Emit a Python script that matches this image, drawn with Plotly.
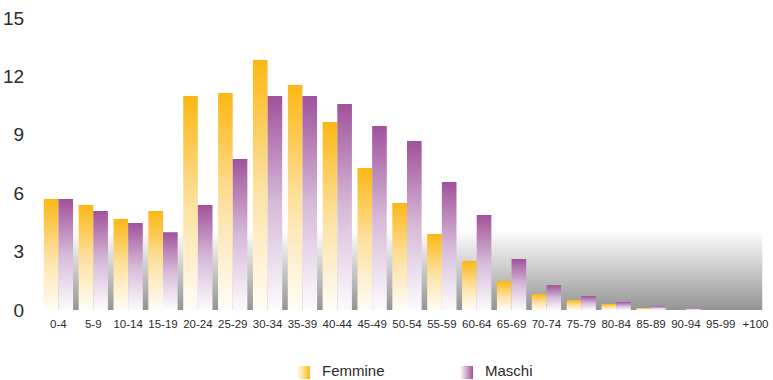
import base64
import plotly.graph_objects as go

# Age classes and population share (%) by sex
classi = ["0-4", "5-9", "10-14", "15-19", "20-24", "25-29", "30-34", "35-39",
          "40-44", "45-49", "50-54", "55-59", "60-64", "65-69", "70-74", "75-79",
          "80-84", "85-89", "90-94", "95-99", "+100"]
femmine = [5.70, 5.39, 4.67, 5.08, 10.99, 11.15, 12.84, 11.56, 9.66, 7.29, 5.50,
           3.90, 2.52, 1.49, 0.82, 0.51, 0.31, 0.10, 0.0, 0.0, 0.0]
maschi = [5.70, 5.08, 4.47, 4.00, 5.39, 7.76, 10.99, 10.99, 10.58, 9.45, 8.68,
          6.57, 4.88, 2.62, 1.28, 0.72, 0.41, 0.21, 0.10, 0.0, 0.0]
y_ticks = [0, 3, 6, 9, 12, 15]

FONT = "Liberation Sans, Arial, sans-serif"
TEXT = "#2b2b2b"
ORANGE = [[0, "rgb(255,253,247)"], [0.5, "rgb(253,224,158)"], [1, "rgb(251,183,20)"]]
PURPLE = [[0, "rgb(253,251,254)"], [0.5, "rgb(214,186,216)"], [1, "rgb(160,82,154)"]]
HALF = 0.42  # width of each bar in category units


def svg_uri(svg):
    return "data:image/svg+xml;base64," + base64.b64encode(svg.encode()).decode()


def gradient_svg(c0, c1, vertical=True):
    x2, y2 = ("0", "1") if vertical else ("1", "0")
    return svg_uri(
        '<svg xmlns="http://www.w3.org/2000/svg" width="100" height="100" '
        'viewBox="0 0 100 100" preserveAspectRatio="none"><defs>'
        f'<linearGradient id="g" x1="0" y1="0" x2="{x2}" y2="{y2}">'
        f'<stop offset="0" stop-color="{c0}"/><stop offset="1" stop-color="{c1}"/>'
        '</linearGradient></defs><rect width="100" height="100" fill="url(#g)"/></svg>'
    )


fig = go.Figure()


def add_bar(x_left, value, scale):
    if value <= 0:
        return
    xs = [x_left, x_left + HALF, x_left + HALF, x_left, x_left]
    ys = [0, 0, value, value, 0]
    fig.add_trace(go.Scatter(
        x=xs, y=ys, mode="lines", fill="toself", line=dict(width=0),
        fillgradient=dict(type="vertical", colorscale=scale, start=0, stop=value),
        showlegend=False, hoverinfo="skip",
    ))


for i, (f, m) in enumerate(zip(femmine, maschi)):
    add_bar(i - HALF, f, ORANGE)
    add_bar(i, m, PURPLE)

# grey fade behind the lower part of the plot
images = [dict(
    source=gradient_svg("#ffffff", "#949494"), xref="x", yref="y",
    x=-HALF, y=4.1, sizex=20.2 + HALF, sizey=4.1,
    xanchor="left", yanchor="top", sizing="stretch", layer="below",
)]

# legend swatches (horizontal fades)
W = 773
for px, c1 in [(297, "#fbb714"), (460, "#a0529a")]:
    images.append(dict(
        source=gradient_svg("#ffffff", c1, vertical=False), xref="paper", yref="paper",
        x=(px - 41) / (W - 41), y=-(366 - 310) / 292, sizex=13 / (W - 41), sizey=13 / 292,
        xanchor="left", yanchor="top", sizing="stretch", layer="above",
    ))

annotations = []
for px, label in [(320, "Femmine"), (483, "Maschi")]:
    annotations.append(dict(
        text=label, xref="paper", yref="paper", x=(px - 41) / (W - 41),
        y=-(370 - 310) / 292, xanchor="left", yanchor="middle", showarrow=False,
        font=dict(family=FONT, size=15, color=TEXT),
    ))

fig.update_layout(
    width=773, height=380,
    margin=dict(l=41, r=0, t=18, b=70),
    paper_bgcolor="white", plot_bgcolor="white",
    showlegend=False,
    images=images,
    annotations=annotations,
    xaxis=dict(
        range=[-0.5, 20.5], tickmode="array", tickvals=list(range(len(classi))),
        ticktext=classi, showgrid=False, zeroline=False, showline=False,
        ticks="outside", ticklen=3, tickcolor="rgba(0,0,0,0)", tickangle=0,
        tickfont=dict(family=FONT, size=11.5, color=TEXT),
    ),
    yaxis=dict(
        range=[0, 15], tickmode="array", tickvals=y_ticks,
        showgrid=False, zeroline=False, showline=False,
        ticks="outside", ticklen=12, tickcolor="rgba(0,0,0,0)",
        tickfont=dict(family=FONT, size=19, color=TEXT),
    ),
)

fig.write_html("out.html")
